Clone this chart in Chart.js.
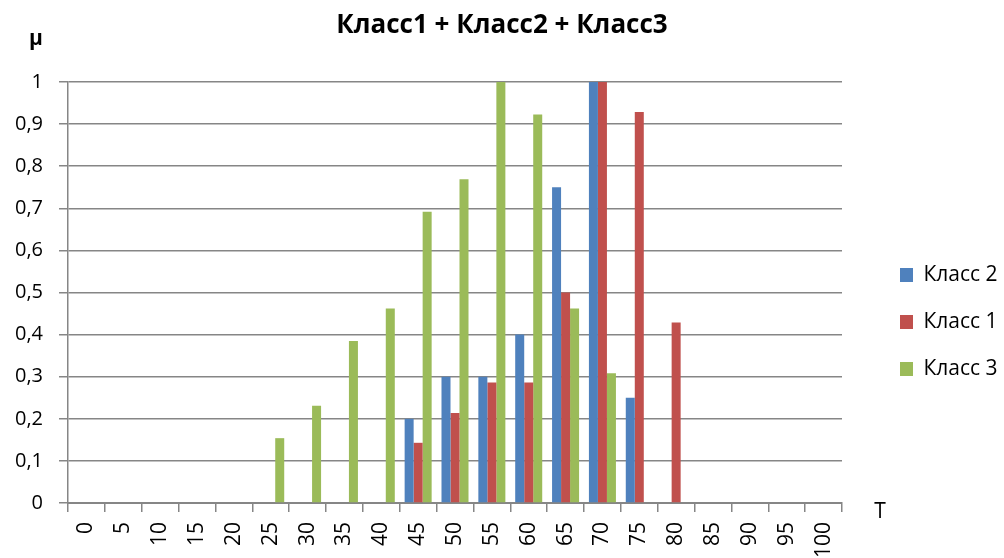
<!DOCTYPE html>
<html>
<head>
<meta charset="utf-8">
<script src="https://cdn.jsdelivr.net/npm/chart.js@4.4.1/dist/chart.umd.min.js"></script>
<style>
  html, body { margin: 0; padding: 0; background: #fff; }
  #wrap { width: 1004px; height: 558px; position: relative; }
</style>
</head>
<body>
<div id="wrap"><canvas id="chart"></canvas></div>
<script>
const categories = ['0', '5', '10', '15', '20', '25', '30', '35', '40', '45', '50',
    '55', '60', '65', '70', '75', '80', '85', '90', '95', '100'];

const klass2 = [0, 0, 0, 0, 0, 0, 0, 0, 0, 0.2, 0.3, 0.3, 0.4, 0.75, 1, 0.25, 0, 0, 0, 0, 0];
const klass1 = [0, 0, 0, 0, 0, 0, 0, 0, 0, 0.143, 0.214, 0.286, 0.286, 0.5, 1, 0.929, 0.429, 0, 0, 0, 0];
const klass3 = [0, 0, 0, 0, 0, 0.154, 0.231, 0.385, 0.462, 0.692, 0.769, 1, 0.923, 0.462, 0.308, 0, 0, 0, 0, 0, 0];

const fontFamily = "'Open Sans', 'Noto Sans', sans-serif";
const gridColor = '#868686';

// axis names: μ above the value axis, T to the right of the category axis
const axisNames = {
    id: 'axisNames',
    afterDraw(chart) {
        const ctx = chart.ctx;
        const area = chart.chartArea;
        ctx.save();
        ctx.fillStyle = '#000';
        ctx.textBaseline = 'middle';
        ctx.textAlign = 'center';
        ctx.font = 'bold 21px ' + fontFamily;
        ctx.fillText('\u03bc', area.left - 32, area.top - 43);
        ctx.font = '21px ' + fontFamily;
        ctx.fillText('T', area.right + 38, area.bottom + 9);
        ctx.restore();
    },
};

// legend sits a bit away from the plot and lower than centre, like the original
const legendPlacement = {
    id: 'legendPlacement',
    afterInit(chart) {
        const lg = chart.legend;
        const fit = lg.fit;
        lg.fit = function() {
            fit.call(this);
            this.width = 162;
        };
    },
    afterLayout(chart) {
        const lg = chart.legend;
        lg.left += 32;
        lg.right += 32;
        lg.top += 43;
        lg.bottom += 43;
    },
};

new Chart(document.getElementById('chart'), {
    type: 'bar',
    data: {
        labels: categories,
        datasets: [
            { label: 'Класс 2', data: klass2, backgroundColor: '#4F81BD' },
            { label: 'Класс 1', data: klass1, backgroundColor: '#C0504D' },
            { label: 'Класс 3', data: klass3, backgroundColor: '#9BBB59' },
        ],
    },
    options: {
        responsive: true,
        maintainAspectRatio: false,
        animation: false,
        datasets: {
            bar: {
                categoryPercentage: 0.733,
                barPercentage: 1.0,
                borderWidth: 0,
            },
        },
        layout: {
            padding: { left: 0, right: 0, top: 0, bottom: 0 },
        },
        scales: {
            x: {
                afterFit: scale => { scale.height = 55; },
                grid: {
                    drawOnChartArea: false,
                    drawTicks: true,
                    tickLength: 9,
                    color: gridColor,
                    lineWidth: 1.5,
                    offset: true,
                },
                border: { color: gridColor, width: 2 },
                ticks: {
                    minRotation: 90,
                    maxRotation: 90,
                    autoSkip: false,
                    color: '#000',
                    padding: 10,
                    font: { family: fontFamily, size: 21 },
                },
            },
            y: {
                min: 0,
                max: 1,
                afterFit: scale => { scale.width = 68; },
                grid: {
                    color: gridColor,
                    lineWidth: 1.5,
                    tickLength: 9,
                },
                border: { display: true, color: gridColor, width: 1.5 },
                ticks: {
                    stepSize: 0.1,
                    color: '#000',
                    padding: 16,
                    font: { family: fontFamily, size: 20 },
                    callback: v => String(Math.round(v * 10) / 10).replace('.', ','),
                },
            },
        },
        plugins: {
            title: {
                display: true,
                text: 'Класс1 + Класс2 + Класс3',
                color: '#000',
                font: { family: fontFamily, size: 26, weight: 'bold', lineHeight: 1.2 },
                padding: { top: 10, bottom: 40.8 },
            },
            legend: {
                position: 'right',
                labels: {
                    boxWidth: 13,
                    boxHeight: 14,
                    padding: 26,
                    color: '#000',
                    font: { family: fontFamily, size: 21 },
                },
            },
            tooltip: { enabled: false },
        },
    },
    plugins: [axisNames, legendPlacement],
});
</script>
</body>
</html>
